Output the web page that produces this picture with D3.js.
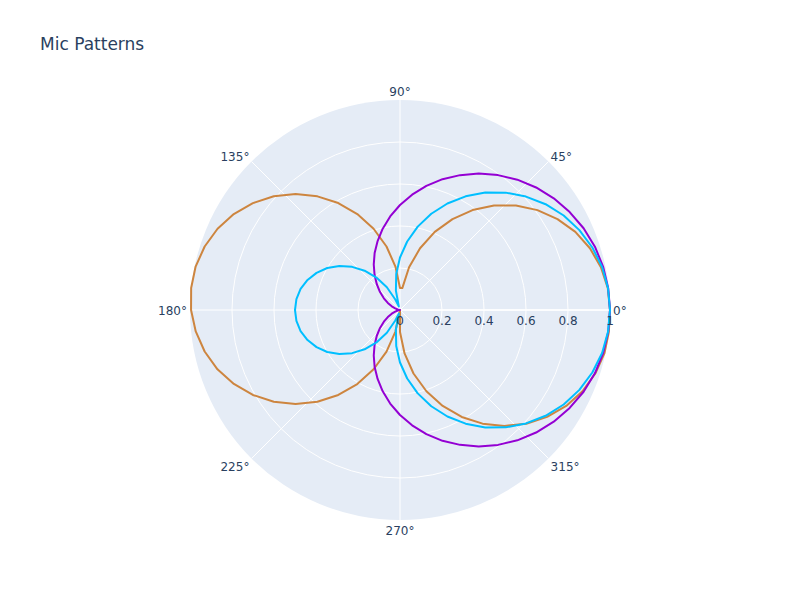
<!DOCTYPE html>
<html>
<head>
<meta charset="utf-8">
<script src="https://cdn.jsdelivr.net/npm/d3@7"></script>
<style>
  body { margin: 0; background: #fff; }
  svg text { font-family: "DejaVu Sans", verdana, arial, sans-serif; fill: #2a3f5f; }
</style>
</head>
<body>
<svg id="chart" width="800" height="600"></svg>
<script>
const thetaDeg = [0, 6, 12, 18, 24, 30, 36, 42, 48, 54, 60, 66, 72, 78, 84, 90, 96, 102, 108, 114,
  120, 126, 132, 138, 144, 150, 156, 162, 168, 174, 180, 186, 192, 198, 204, 210, 216, 222, 228, 234,
  240, 246, 252, 258, 264, 270, 276, 282, 288, 294, 300, 306, 312, 318, 324, 330, 336, 342, 348, 354, 360];

const figure8 = [1, 0.995, 0.978, 0.951, 0.914, 0.866, 0.809, 0.743, 0.669, 0.588, 0.5, 0.407, 0.309, 0.208, 0.105, 0.105, 0.208, 0.309, 0.407, 0.5,
  0.588, 0.669, 0.743, 0.809, 0.866, 0.914, 0.951, 0.978, 0.995, 1, 0.995, 0.978, 0.951, 0.914, 0.866, 0.809, 0.743, 0.669, 0.588, 0.5,
  0.407, 0.309, 0.208, 0.105, 0, 0.105, 0.208, 0.309, 0.407, 0.5, 0.588, 0.669, 0.743, 0.809, 0.866, 0.914, 0.951, 0.978, 0.995, 1, 1];

const cardioid = [1, 0.997, 0.989, 0.976, 0.957, 0.933, 0.905, 0.872, 0.835, 0.794, 0.75, 0.703, 0.655, 0.604, 0.552, 0.5, 0.448, 0.396, 0.345, 0.297,
  0.25, 0.206, 0.165, 0.128, 0.095, 0.067, 0.043, 0.024, 0.011, 0.003, 0, 0.003, 0.011, 0.024, 0.043, 0.067, 0.095, 0.128, 0.165, 0.206,
  0.25, 0.297, 0.345, 0.396, 0.448, 0.5, 0.552, 0.604, 0.655, 0.703, 0.75, 0.794, 0.835, 0.872, 0.905, 0.933, 0.957, 0.976, 0.989, 0.997, 1];

const hypercardioid = [1, 0.996, 0.984, 0.963, 0.935, 0.9, 0.857, 0.807, 0.752, 0.691, 0.625, 0.555, 0.482, 0.406, 0.328, 0.25, 0.172, 0.094, 0.018, 0.055,
  0.125, 0.191, 0.252, 0.307, 0.357, 0.4, 0.435, 0.463, 0.484, 0.496, 0.5, 0.496, 0.484, 0.463, 0.435, 0.4, 0.357, 0.307, 0.252, 0.191,
  0.125, 0.055, 0.018, 0.094, 0.172, 0.25, 0.328, 0.406, 0.482, 0.555, 0.625, 0.691, 0.752, 0.807, 0.857, 0.9, 0.935, 0.963, 0.984, 0.996, 1];

const angularTicks = [0, 45, 90, 135, 180, 225, 270, 315];
const radialTicks = [0, 0.2, 0.4, 0.6, 0.8, 1];
const radialLabels = ['0', '0.2', '0.4', '0.6', '0.8', '1'];

const traces = [
  { name: 'Figure 8', values: figure8, color: 'peru' },
  { name: 'Cardioid', values: cardioid, color: 'darkviolet' },
  { name: 'Hypercardioid', values: hypercardioid, color: 'deepskyblue' }
];

const cx = 400, cy = 310, radius = 210;
const toRad = d => d * Math.PI / 180;

const svg = d3.select('#chart');
const r = d3.scaleLinear().domain([0, 1]).range([0, radius]);

svg.append('text')
  .attr('x', 40)
  .attr('y', 50)
  .style('font-size', '17px')
  .text('Mic Patterns');

const g = svg.append('g').attr('transform', `translate(${cx},${cy})`);

g.append('circle').attr('r', radius).attr('fill', '#e5ecf6');

g.selectAll('.rgrid')
  .data(radialTicks.filter(t => t > 0 && t < 1))
  .enter()
  .append('circle')
  .attr('r', d => r(d))
  .attr('fill', 'none')
  .attr('stroke', '#fff')
  .attr('stroke-width', 1);

g.selectAll('.spoke')
  .data(angularTicks)
  .enter()
  .append('line')
  .attr('x1', 0).attr('y1', 0)
  .attr('x2', d => radius * Math.cos(toRad(d)))
  .attr('y2', d => -radius * Math.sin(toRad(d)))
  .attr('stroke', '#fff')
  .attr('stroke-width', 1);

// radial axis line along 0deg
g.append('line')
  .attr('x1', 0).attr('y1', 0)
  .attr('x2', radius).attr('y2', 0)
  .attr('stroke', '#fff')
  .attr('stroke-width', 1.5);

const line = d3.lineRadial()
  .angle(d => toRad(90 - d.theta))
  .radius(d => r(d.r));

traces.forEach(t => {
  const pts = thetaDeg.map((th, i) => ({ theta: th, r: t.values[i] }));
  g.append('path')
    .datum(pts)
    .attr('d', line)
    .attr('fill', 'none')
    .attr('stroke', t.color)
    .attr('stroke-width', 2)
    .attr('stroke-linejoin', 'round');
});

g.selectAll('.rlabel')
  .data(radialTicks)
  .enter()
  .append('text')
  .attr('x', d => r(d))
  .attr('y', 15)
  .attr('text-anchor', 'middle')
  .style('font-size', '12px')
  .text((d, i) => radialLabels[i]);

const pad = 3;
g.selectAll('.alabel')
  .data(angularTicks)
  .enter()
  .append('text')
  .attr('x', d => (radius + pad) * Math.cos(toRad(d)))
  .attr('y', d => {
    const s = Math.sin(toRad(d));
    // labels below the top one sit a little lower
    const shift = (Math.abs(s) > 0.01 && s < 0.99) ? 2 : 0.5;
    return -(radius + pad) * s - s * 6 + 4.2 + shift;
  })
  .attr('text-anchor', d => {
    const c = Math.cos(toRad(d));
    return c > 0.01 ? 'start' : (c < -0.01 ? 'end' : 'middle');
  })
  .style('font-size', '12px')
  .text(d => `${d}°`);
</script>
</body>
</html>
